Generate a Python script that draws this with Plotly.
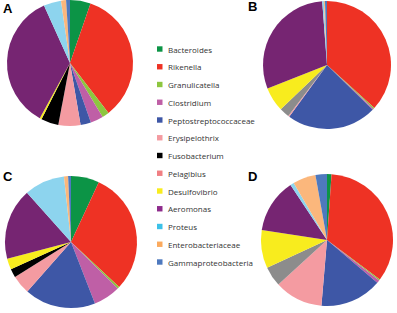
import plotly.graph_objects as go

W, H = 397, 313

categories = ["Bacteroides", "Rikenella", "Granulicatella", "Clostridium",
              "Peptostreptococcaceae", "Erysipelothrix", "Fusobacterium",
              "Pelagibius", "Desulfovibrio", "Aeromonas", "Proteus",
              "Enterobacteriaceae", "Gammaproteobacteria"]

# percentages per sample, in legend order
values_A = [5.3, 34.4, 1.8, 3.3, 2.7, 5.7, 4.5, 0.0, 0.5, 35.4, 4.5, 1.3, 1.0]
values_B = [0.0, 36.9, 0.3, 0.3, 22.8, 0.3, 0.0, 2.5, 6.2, 29.9, 0.4, 0.3, 0.5]
values_C = [6.9, 30.0, 0.5, 6.6, 17.4, 4.6, 2.1, 0.0, 2.7, 17.4, 9.9, 1.0, 0.7]
values_D = [1.1, 34.0, 0.3, 0.7, 15.1, 11.8, 0.0, 4.9, 9.3, 13.2, 0.9, 5.6, 2.8]

panel_labels = ["A", "B", "C", "D"]

pie_colors = ["#0C9446", "#EE3224", "#8DC63F", "#BF5FA6", "#3E57A6", "#F49BA1",
              "#000000", "#8C8C8C", "#F8EC1E", "#762572", "#8DD4EE", "#FBB77C",
              "#4E79BE"]
legend_colors = ["#0C9446", "#EE3224", "#8DC63F", "#BF5FA6", "#3E57A6", "#F49BA1",
                 "#000000", "#F07F83", "#F8EC1E", "#8E2B8C", "#3CC1E8", "#FBAA5E",
                 "#4E79BE"]

# layout geometry (pixels): center x, center y, radius
geoms = [(70, 63, 63), (327, 65, 64), (71, 242, 66), (327, 240, 66)]
label_pos = [(8, 8), (252, 7), (8, 176), (252, 176)]


def clamp(v):
    return max(0.0, min(1.0, v))


fig = go.Figure()
for vals, (cx, cy, r) in zip([values_A, values_B, values_C, values_D], geoms):
    fig.add_trace(go.Pie(
        labels=categories, values=vals, sort=False, direction="clockwise",
        rotation=0, textinfo="none", hoverinfo="label+value",
        marker=dict(colors=pie_colors, line=dict(width=0)),
        domain=dict(x=[clamp((cx - r) / W), clamp((cx + r) / W)],
                    y=[clamp(1 - (cy + r) / H), clamp(1 - (cy - r) / H)]),
        showlegend=False))

annotations = []
shapes = []
for lab, (lx, ly) in zip(panel_labels, label_pos):
    annotations.append(dict(x=lx / W, y=1 - ly / H, xref="paper", yref="paper",
                            text=f"<b>{lab}</b>", showarrow=False,
                            font=dict(family="Liberation Sans, Arial", size=13, color="#000"),
                            xanchor="center", yanchor="middle"))

y0, dy = 49, 17.75
for i, (name, col) in enumerate(zip(categories, legend_colors)):
    yy = y0 + i * dy
    shapes.append(dict(type="rect", xref="paper", yref="paper",
                       x0=157 / W, x1=162.5 / W,
                       y0=1 - (yy + 2.7) / H, y1=1 - (yy - 2.7) / H,
                       fillcolor=col, line=dict(width=0)))
    annotations.append(dict(x=166 / W, y=1 - yy / H, xref="paper", yref="paper",
                            text=name, showarrow=False, xanchor="left", yanchor="middle",
                            font=dict(family="Open Sans", size=8, color="#333333")))

fig.update_layout(width=W, height=H, margin=dict(l=0, r=0, t=0, b=0),
                  paper_bgcolor="white", plot_bgcolor="white",
                  annotations=annotations, shapes=shapes, showlegend=False)

fig.write_html("out.html", config={"displayModeBar": False},
               post_script="document.body.style.margin='0';document.body.style.overflow='hidden';")
